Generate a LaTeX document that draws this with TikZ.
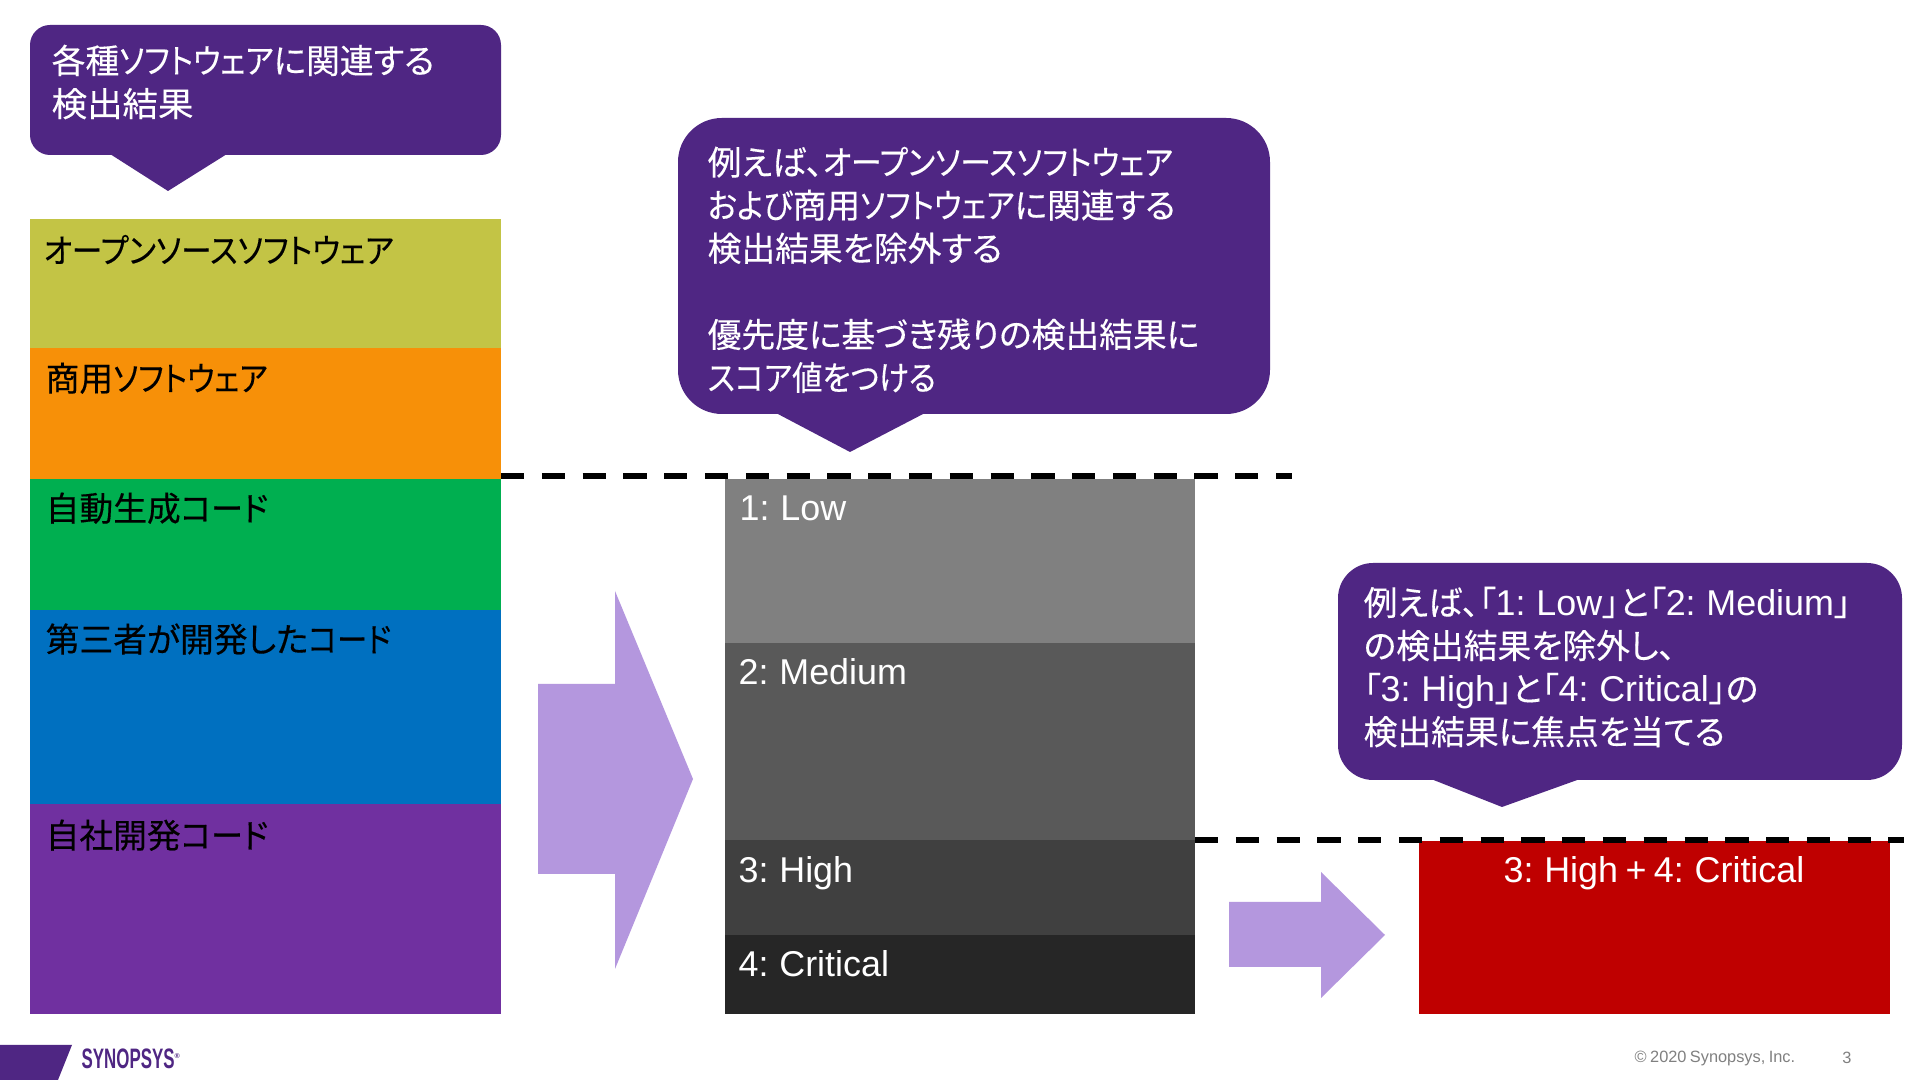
\documentclass[tikz,border=0pt]{standalone}
\usepackage{fontspec}
\setmainfont{Liberation Sans}[WordSpace=0.75]
\newfontfamily\cjk[RawFeature=+palt,FakeBold=0.3]{Noto Sans CJK JP}
\usepackage{xcolor}
\definecolor{calloutpurple}{HTML}{4F2683}
\definecolor{arrowpurple}{HTML}{B497DE}
\definecolor{bandolive}{HTML}{C3C445}
\definecolor{bandorange}{HTML}{F79008}
\definecolor{bandgreen}{HTML}{00AF50}
\definecolor{bandblue}{HTML}{0070C0}
\definecolor{bandpurple}{HTML}{7030A0}
\definecolor{footgray}{HTML}{808080}
\tikzstyle{calloutfill} = [fill=calloutpurple]
\tikzstyle{callouttext} = [anchor=north west, inner sep=0pt, align=left, text=white, font=\cjk\fontsize{9.6}{12.25}\selectfont]
\tikzstyle{bandtext}    = [anchor=base west, inner sep=0pt, text=black, font=\cjk\fontsize{9.6}{12.25}\selectfont]
\tikzstyle{scoretext}   = [anchor=base west, inner sep=0pt, text=white, font=\fontsize{10.2}{12.25}\selectfont]
\tikzstyle{cutline}     = [line width=1.9pt, dash pattern=on 6.6pt off 5pt]
\tikzstyle{footer}      = [inner sep=0pt, text=footgray, font=\fontsize{4.65}{6}\selectfont]
\newcommand{\lat}[1]{{\rmfamily\fontsize{10.2}{12.25}\selectfont #1}}
\newcommand{\kana}[1]{\scalebox{.9}[1]{#1}}
\newcommand{\codeword}{\scalebox{.95}[1]{コード}}

\begin{document}
\begin{tikzpicture}[x=0.01cm, y=-0.01cm]
        \useasboundingbox[fill=white] (0,0) rectangle (1920,1080);

        % left column
        \fill[bandolive] (30,219) rectangle (501,348);
        \fill[bandorange] (30,348) rectangle (501,479);
        \fill[bandgreen] (30,479) rectangle (501,610);
        \fill[bandblue] (30,610) rectangle (501,804);
        \fill[bandpurple] (30,804) rectangle (501,1014);
        \node[bandtext] (oss) at (43,263) {\scalebox{.91}[1]{オープンソースソフトウェア}};
        \node[bandtext] (commercial) at (45,391) {商用\kana{ソフトウェア}};
        \node[bandtext] (generated) at (45,521) {自動生成\codeword};
        \node[bandtext] (thirdparty) at (45,652) {第三者が開発した\kana{コード}};
        \node[bandtext] (inhouse) at (45,848) {自社開発\codeword};

        % callouts
        \fill[calloutfill, rounded corners=5.7pt] (30,25) rectangle (501,155);
        \fill[calloutfill] (110,154) -- (168,191) -- (227,154) -- cycle;
        \node[callouttext] (findings) at (51,44) {各種\kana{ソフトウェア}に関連する\\\scalebox{1.05}[1]{検出結果}};

        \fill[calloutfill, rounded corners=12.5pt] (678,118) rectangle (1270,414);
        \fill[calloutfill] (776,413) -- (850,452) -- (925,413) -- cycle;
        \node[callouttext] (exclude) at (707,146) {例えば、\scalebox{.91}[1]{オープンソースソフトウェア}\\\kana{および}商用\kana{ソフトウェア}に関連する\\検出結果を除外する\\~\\優先度に基づき残りの検出結果に\\\kana{スコア値をつける}};

        \fill[calloutfill, rounded corners=10pt] (1338,563) rectangle (1902,780);
        \fill[calloutfill] (1431,779) -- (1502,807) -- (1580,779) -- cycle;
        \node[callouttext] (focus) at (1363,586) {例えば、「\lat{1: Low}」と「\lat{2: Medium}」\\の検出結果を除外し、\\「\lat{3: High}」と「\lat{4: Critical}」の\\検出結果に焦点を当てる};

        % score column
        \fill[black!50] (725,479) rectangle (1195,643);
        \fill[black!65] (725,643) rectangle (1195,840);
        \fill[black!75] (725,840) rectangle (1195,935);
        \fill[black!85] (725,935) rectangle (1195,1014);
        \node[scoretext] (low) at (739,521) {1: Low};
        \node[scoretext] (medium) at (738,685) {2: Medium};
        \node[scoretext] (high) at (738,883) {3: High};
        \node[scoretext] (critical) at (738,977) {4: Critical};

        \fill[red!75!black] (1419,841) rectangle (1890,1014);
        \node[scoretext, anchor=base] (highcritical) at (1654,883) {3: High + 4: Critical};

        % dashed cut lines
        \draw[cutline] (501,476) -- (1292,476);
        \draw[cutline] (1195,840) -- (1904,840);

        % block arrows
        \fill[arrowpurple] (538,684) -- (615,684) -- (615,591) -- (693,779) -- (615,969) -- (615,874) -- (538,874) -- cycle;
        \fill[arrowpurple] (1229,902) -- (1321,902) -- (1321,872) -- (1385,935) -- (1321,998) -- (1321,967) -- (1229,967) -- cycle;

        % footer
        \fill[calloutpurple] (0,1045) -- (72,1045) -- (58,1080) -- (0,1080) -- cycle;
        \node[inner sep=0pt, anchor=base west, text=calloutpurple, font=\bfseries\fontsize{8}{8}\selectfont] (logo) at (81,1069) {\scalebox{.6}[1]{SYNOPSYS}\raisebox{3pt}{\fontsize{2}{3}\selectfont ®}};
        \node[footer, anchor=west] (copyright) at (1634,1058) {© 2020 Synopsys, Inc.};
        \node[footer] (page) at (1847,1058) {3};
    \end{tikzpicture}
\end{document}
